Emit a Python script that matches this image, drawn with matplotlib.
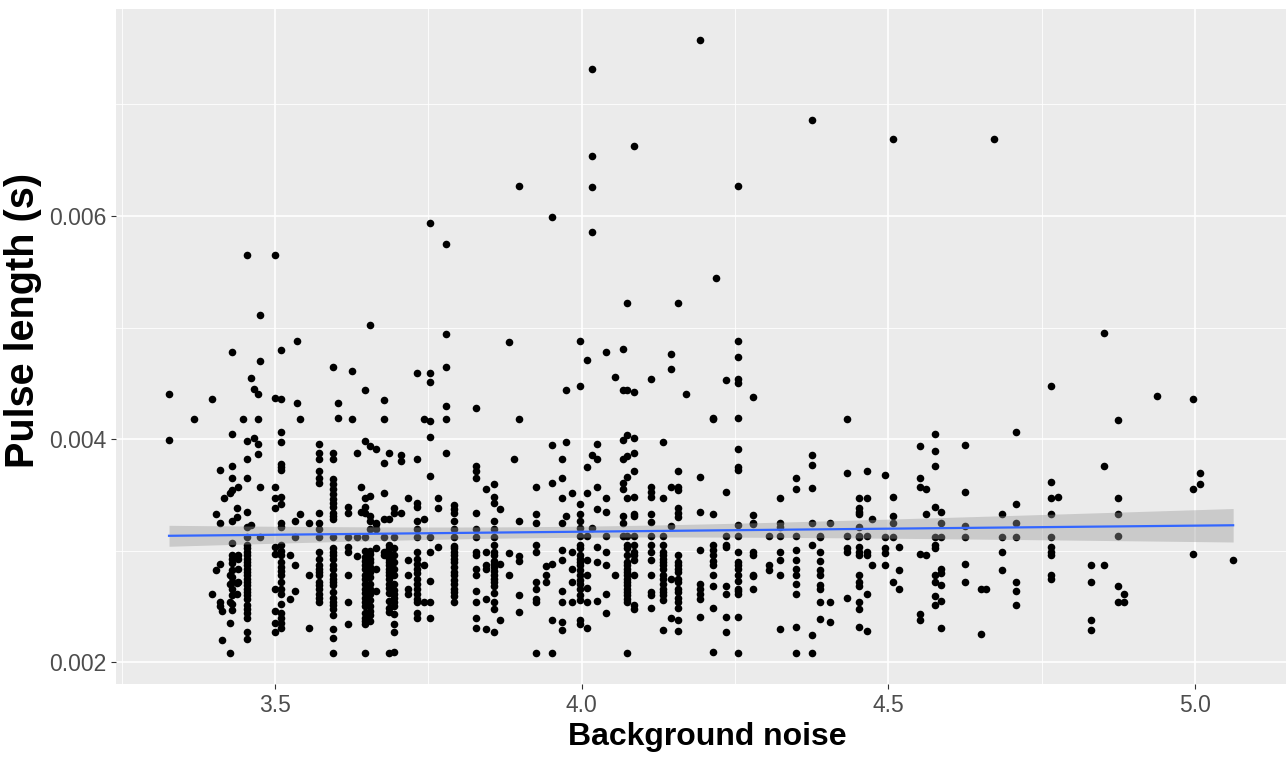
import numpy as np
import matplotlib
matplotlib.use("Agg")
import matplotlib.pyplot as plt
import matplotlib.ticker as ticker

plt.rcParams['font.family'] = ['Liberation Sans', 'DejaVu Sans']

# Background noise value of each column of points
col_noise = [
    3.327, 3.367, 3.397, 3.403, 3.410, 3.414, 3.416, 3.427, 3.430, 3.438,
    3.440, 3.447, 3.454, 3.460, 3.466, 3.472, 3.476, 3.500, 3.510, 3.524,
    3.532, 3.535, 3.540, 3.555, 3.572, 3.594, 3.603, 3.618, 3.626, 3.634,
    3.640, 3.646, 3.654, 3.665, 3.678, 3.685, 3.694, 3.706, 3.717, 3.731,
    3.743, 3.752, 3.766, 3.779, 3.791, 3.827, 3.843, 3.857, 3.866, 3.881,
    3.890, 3.897, 3.926, 3.941, 3.952, 3.967, 3.974, 3.984, 3.997, 4.008,
    4.016, 4.025, 4.039, 4.054, 4.067, 4.074, 4.085, 4.113, 4.133, 4.145,
    4.157, 4.170, 4.192, 4.214, 4.218, 4.235, 4.255, 4.279, 4.305, 4.323,
    4.349, 4.375, 4.388, 4.405, 4.433, 4.452, 4.465, 4.473, 4.494, 4.508,
    4.517, 4.552, 4.561, 4.576, 4.586, 4.625, 4.651, 4.659, 4.672, 4.685,
    4.708, 4.765, 4.777, 4.830, 4.851, 4.874, 4.884, 4.938, 4.996, 5.008,
    5.062,
]

# Pulse lengths (s) found in each column, same order as col_noise
col_pulse = [
    [0.00440, 0.00399],
    [0.00418],
    [0.00436, 0.00261],
    [0.00333, 0.00283],
    [0.00372, 0.00325, 0.00288, 0.00254, 0.00250],
    [0.00246, 0.00220],
    [0.00347],
    [0.00352, 0.00278, 0.00270, 0.00254, 0.00235, 0.00208],
    [0.00478, 0.00405, 0.00376, 0.00365, 0.00354, 0.00327, 0.00307, 0.00296,
     0.00293, 0.00272, 0.00247],
    [0.00338, 0.00330, 0.00271, 0.00261],
    [0.00357, 0.00296, 0.00293, 0.00284, 0.00272],
    [0.00418],
    [0.00565, 0.00398, 0.00382, 0.00365, 0.00335, 0.00321, 0.00312, 0.00305,
     0.00299, 0.00293, 0.00287, 0.00278, 0.00272, 0.00266, 0.00260, 0.00251,
     0.00244, 0.00227, 0.00221],
    [0.00455, 0.00323],
    [0.00445, 0.00401],
    [0.00440, 0.00418, 0.00396, 0.00387],
    [0.00511, 0.00470, 0.00357, 0.00312],
    [0.00565, 0.00437, 0.00357, 0.00347, 0.00338, 0.00303, 0.00297, 0.00266,
     0.00246, 0.00235, 0.00227],
    [0.00480, 0.00436, 0.00406, 0.00397, 0.00378, 0.00375, 0.00372, 0.00348,
     0.00342, 0.00325, 0.00321, 0.00305, 0.00296, 0.00285, 0.00278, 0.00261,
     0.00244, 0.00235, 0.00231],
    [0.00296, 0.00257],
    [0.00327, 0.00312, 0.00287, 0.00264],
    [0.00488, 0.00432],
    [0.00418, 0.00333],
    [0.00325, 0.00278, 0.00231],
    [0.00396, 0.00388, 0.00382, 0.00371, 0.00365, 0.00361, 0.00334, 0.00325,
     0.00319, 0.00312, 0.00299, 0.00287, 0.00284, 0.00278, 0.00269, 0.00261,
     0.00254],
    [0.00465, 0.00388, 0.00382, 0.00364, 0.00360, 0.00355, 0.00351, 0.00346,
     0.00343, 0.00339, 0.00334, 0.00331, 0.00328, 0.00312, 0.00299, 0.00296,
     0.00287, 0.00278, 0.00272, 0.00254, 0.00248, 0.00230, 0.00222, 0.00208],
    [0.00432, 0.00419],
    [0.00339, 0.00334, 0.00312, 0.00303, 0.00299, 0.00278, 0.00254, 0.00234],
    [0.00461, 0.00418],
    [0.00388, 0.00312, 0.00295],
    [0.00357, 0.00335],
    [0.00444, 0.00398, 0.00347, 0.00339, 0.00334, 0.00312, 0.00291, 0.00287,
     0.00278, 0.00266, 0.00254, 0.00240, 0.00234, 0.00208],
    [0.00502, 0.00394, 0.00349, 0.00331, 0.00327, 0.00319, 0.00297, 0.00290,
     0.00281, 0.00270, 0.00261, 0.00246, 0.00237],
    [0.00391, 0.00325, 0.00324, 0.00319, 0.00302, 0.00284, 0.00264],
    [0.00435, 0.00418, 0.00379, 0.00352, 0.00328, 0.00312, 0.00299, 0.00296],
    [0.00388, 0.00328, 0.00305, 0.00302, 0.00290, 0.00287, 0.00281, 0.00278,
     0.00270, 0.00249, 0.00208],
    [0.00338, 0.00334, 0.00312, 0.00296, 0.00261, 0.00254, 0.00243, 0.00234,
     0.00227, 0.00209],
    [0.00386, 0.00380, 0.00334],
    [0.00347, 0.00292, 0.00278, 0.00266, 0.00261],
    [0.00459, 0.00382, 0.00343, 0.00339, 0.00327, 0.00319, 0.00312, 0.00288,
     0.00284, 0.00270, 0.00261, 0.00257, 0.00254, 0.00244, 0.00240],
    [0.00418, 0.00328, 0.00287, 0.00254],
    [0.00594, 0.00459, 0.00451, 0.00416, 0.00402, 0.00367, 0.00312, 0.00299,
     0.00273, 0.00254, 0.00240],
    [0.00347, 0.00338, 0.00303],
    [0.00575, 0.00494, 0.00465, 0.00430, 0.00418, 0.00388],
    [0.00341, 0.00337, 0.00334, 0.00327, 0.00319, 0.00312, 0.00304, 0.00302,
     0.00296, 0.00293, 0.00278, 0.00270, 0.00266, 0.00263, 0.00254],
    [0.00428, 0.00376, 0.00371, 0.00365, 0.00334, 0.00319, 0.00312, 0.00299,
     0.00296, 0.00284, 0.00278, 0.00264, 0.00254, 0.00240, 0.00231],
    [0.00355, 0.00299, 0.00287, 0.00284, 0.00257, 0.00230],
    [0.00360, 0.00348, 0.00343, 0.00327, 0.00319, 0.00312, 0.00299, 0.00296,
     0.00291, 0.00278, 0.00272, 0.00254, 0.00248, 0.00227],
    [0.00337, 0.00288, 0.00238],
    [0.00487, 0.00298, 0.00278],
    [0.00382],
    [0.00627, 0.00418, 0.00327, 0.00295, 0.00291, 0.00260, 0.00245],
    [0.00357, 0.00333, 0.00325, 0.00305, 0.00299, 0.00272, 0.00266, 0.00257,
     0.00254, 0.00208],
    [0.00286, 0.00278, 0.00272],
    [0.00599, 0.00395, 0.00361, 0.00288, 0.00238, 0.00208],
    [0.00382, 0.00365, 0.00347, 0.00325, 0.00301, 0.00292, 0.00264, 0.00254,
     0.00236, 0.00229],
    [0.00444, 0.00397, 0.00331],
    [0.00352, 0.00299, 0.00284, 0.00272, 0.00254],
    [0.00488, 0.00448, 0.00342, 0.00333, 0.00327, 0.00320, 0.00313, 0.00305,
     0.00293, 0.00287, 0.00278, 0.00270, 0.00260, 0.00238, 0.00234],
    [0.00471, 0.00375, 0.00352, 0.00313, 0.00292, 0.00278, 0.00267, 0.00254,
     0.00231],
    [0.00732, 0.00654, 0.00626, 0.00586, 0.00386, 0.00320],
    [0.00396, 0.00382, 0.00357, 0.00337, 0.00303, 0.00290, 0.00255],
    [0.00478, 0.00347, 0.00335, 0.00313, 0.00299, 0.00287, 0.00261, 0.00244],
    [0.00456, 0.00278],
    [0.00481, 0.00444, 0.00399, 0.00382, 0.00361, 0.00355, 0.00331, 0.00325,
     0.00313],
    [0.00522, 0.00444, 0.00404, 0.00385, 0.00366, 0.00347, 0.00313, 0.00302,
     0.00290, 0.00284, 0.00278, 0.00272, 0.00266, 0.00260, 0.00254, 0.00208],
    [0.00663, 0.00442, 0.00401, 0.00388, 0.00371, 0.00348, 0.00333, 0.00331,
     0.00313, 0.00305, 0.00299, 0.00296, 0.00292, 0.00278, 0.00251, 0.00248],
    [0.00454, 0.00357, 0.00353, 0.00348, 0.00333, 0.00326, 0.00313, 0.00305,
     0.00299, 0.00292, 0.00278, 0.00263, 0.00260, 0.00249],
    [0.00397, 0.00347, 0.00313, 0.00299, 0.00296, 0.00287, 0.00278, 0.00270,
     0.00260, 0.00229],
    [0.00476, 0.00463, 0.00357, 0.00322, 0.00275, 0.00240],
    [0.00522, 0.00371, 0.00357, 0.00354, 0.00338, 0.00334, 0.00330, 0.00290,
     0.00287, 0.00275, 0.00263, 0.00254, 0.00249, 0.00238, 0.00228],
    [0.00440],
    [0.00758, 0.00366, 0.00335, 0.00301, 0.00270, 0.00266, 0.00261, 0.00257,
     0.00241],
    [0.00419, 0.00418, 0.00333, 0.00305, 0.00301, 0.00296, 0.00291, 0.00287,
     0.00278, 0.00268, 0.00249, 0.00209],
    [0.00544],
    [0.00453, 0.00353, 0.00313, 0.00305, 0.00303, 0.00268, 0.00261, 0.00241,
     0.00227],
    [0.00627, 0.00488, 0.00474, 0.00454, 0.00450, 0.00419, 0.00391, 0.00375,
     0.00372, 0.00323, 0.00313, 0.00299, 0.00290, 0.00287, 0.00284, 0.00278,
     0.00273, 0.00266, 0.00264, 0.00261, 0.00241, 0.00208],
    [0.00438, 0.00332, 0.00325, 0.00324, 0.00299, 0.00296, 0.00278, 0.00277,
     0.00266],
    [0.00313, 0.00287, 0.00283],
    [0.00347, 0.00325, 0.00321, 0.00313, 0.00299, 0.00292, 0.00278, 0.00230],
    [0.00365, 0.00355, 0.00313, 0.00301, 0.00292, 0.00284, 0.00278, 0.00270,
     0.00261, 0.00232, 0.00208],
    [0.00686, 0.00386, 0.00377, 0.00356, 0.00325, 0.00305, 0.00224, 0.00208],
    [0.00313, 0.00312, 0.00299, 0.00291, 0.00283, 0.00278, 0.00269, 0.00266,
     0.00254, 0.00239],
    [0.00325, 0.00254, 0.00236],
    [0.00418, 0.00370, 0.00313, 0.00302, 0.00299, 0.00258],
    [0.00347, 0.00338, 0.00335, 0.00333, 0.00321, 0.00313, 0.00312, 0.00303,
     0.00299, 0.00296, 0.00278, 0.00272, 0.00268, 0.00254, 0.00248, 0.00232],
    [0.00371, 0.00347, 0.00313, 0.00299, 0.00296, 0.00261, 0.00228],
    [0.00328, 0.00287],
    [0.00368, 0.00312, 0.00302, 0.00298, 0.00287],
    [0.00669, 0.00348, 0.00331, 0.00325, 0.00312, 0.00272],
    [0.00303, 0.00283, 0.00266],
    [0.00394, 0.00365, 0.00357, 0.00297, 0.00243, 0.00238],
    [0.00355, 0.00333, 0.00296],
    [0.00405, 0.00389, 0.00376, 0.00339, 0.00312, 0.00305, 0.00302, 0.00278,
     0.00272, 0.00259, 0.00251],
    [0.00335, 0.00325, 0.00312, 0.00284, 0.00280, 0.00269, 0.00255, 0.00231],
    [0.00395, 0.00353, 0.00322, 0.00312, 0.00288, 0.00272],
    [0.00266, 0.00225],
    [0.00266],
    [0.00669],
    [0.00333, 0.00312, 0.00299, 0.00283],
    [0.00406, 0.00342, 0.00325, 0.00312, 0.00272, 0.00264, 0.00251],
    [0.00448, 0.00362, 0.00347, 0.00333, 0.00312, 0.00303, 0.00299, 0.00296,
     0.00278, 0.00275],
    [0.00348],
    [0.00287, 0.00272, 0.00238, 0.00229],
    [0.00495, 0.00376, 0.00287],
    [0.00417, 0.00347, 0.00333, 0.00313, 0.00268, 0.00254],
    [0.00261, 0.00254],
    [0.00439],
    [0.00436, 0.00355, 0.00297],
    [0.00370, 0.00360],
    [0.00292],
]

# points half hidden inside the dense stacks of the low band
stack_noise = [3.430, 3.454, 3.510, 3.572, 3.594, 3.646, 3.654, 3.685,
               3.694, 3.731, 3.791, 3.857, 3.997, 4.074, 4.133, 4.157]
stack_pulse = [
    [0.00289, 0.00283, 0.00276, 0.00266, 0.00260, 0.00252],
    [0.00302, 0.00296, 0.00290, 0.00284, 0.00281, 0.00275, 0.00269, 0.00263,
     0.00257, 0.00248, 0.00240],
    [0.00300, 0.00290, 0.00282, 0.00272, 0.00266, 0.00252, 0.00240],
    [0.00293, 0.00281, 0.00272, 0.00266, 0.00258],
    [0.00302, 0.00293, 0.00284, 0.00275, 0.00269, 0.00263, 0.00258, 0.00251,
     0.00242],
    [0.00300, 0.00294, 0.00284, 0.00275, 0.00270, 0.00262, 0.00258, 0.00250,
     0.00244, 0.00237],
    [0.00300, 0.00293, 0.00285, 0.00276, 0.00266, 0.00256, 0.00250, 0.00242],
    [0.00298, 0.00293, 0.00284, 0.00275, 0.00267, 0.00262, 0.00255, 0.00245],
    [0.00302, 0.00290, 0.00284, 0.00278, 0.00270, 0.00265, 0.00258, 0.00250],
    [0.00299, 0.00293, 0.00280, 0.00275, 0.00266],
    [0.00299, 0.00290, 0.00285, 0.00281, 0.00274, 0.00259],
    [0.00305, 0.00288, 0.00285, 0.00282, 0.00275, 0.00268, 0.00262],
    [0.00302, 0.00296, 0.00290, 0.00283, 0.00274, 0.00266, 0.00256],
    [0.00305, 0.00296, 0.00287, 0.00281, 0.00275, 0.00269, 0.00263, 0.00257],
    [0.00305, 0.00293, 0.00290, 0.00284, 0.00275, 0.00266, 0.00263, 0.00256],
    [0.00296, 0.00284, 0.00281, 0.00272, 0.00266, 0.00258],
]

x_ticks = [3.5, 4.0, 4.5, 5.0]
y_ticks = [0.002, 0.004, 0.006]

# flatten the columns into point arrays
all_noise = col_noise + stack_noise
all_pulse = col_pulse + stack_pulse
noise = np.concatenate([[x] * len(p) for x, p in zip(all_noise, all_pulse)])
pulse = np.concatenate([np.array(p) for p in all_pulse])

# linear fit with 95% confidence band (like geom_smooth(method = "lm"))
n = len(noise)
slope, intercept = np.polyfit(noise, pulse, 1)
resid = pulse - (intercept + slope * noise)
s_err = np.sqrt(np.sum(resid ** 2) / (n - 2))
x_mean = noise.mean()
sxx = np.sum((noise - x_mean) ** 2)
fit_x = np.linspace(noise.min(), noise.max(), 80)
fit_y = intercept + slope * fit_x
se = s_err * np.sqrt(1.0 / n + (fit_x - x_mean) ** 2 / sxx)
band = 1.96 * se

fig = plt.figure(figsize=(12.87, 7.58), dpi=100)
ax = fig.add_axes([0.090, 0.0976, 0.9095, 0.8905])
ax.set_facecolor('#EBEBEB')
for sp in ax.spines.values():
    sp.set_visible(False)

ax.scatter(noise, pulse, s=30, color='black', linewidths=0, zorder=3)
ax.fill_between(fit_x, fit_y - band, fit_y + band, color='#999999',
                alpha=0.4, linewidth=0, zorder=4)
ax.plot(fit_x, fit_y, color='#3366FF', linewidth=1.6, zorder=5)

# ggplot-like 5% expansion
xr = noise.max() - noise.min()
yr = pulse.max() - pulse.min()
ax.set_xlim(noise.min() - 0.05 * xr, noise.max() + 0.05 * xr)
ax.set_ylim(pulse.min() - 0.05 * yr, pulse.max() + 0.05 * yr)

ax.set_xticks(x_ticks)
ax.set_yticks(y_ticks)
ax.xaxis.set_minor_locator(ticker.MultipleLocator(0.25))
ax.yaxis.set_minor_locator(ticker.MultipleLocator(0.001))
ax.xaxis.set_major_formatter(ticker.FormatStrFormatter('%.1f'))
ax.yaxis.set_major_formatter(ticker.FormatStrFormatter('%.3f'))

ax.grid(which='major', color='white', linewidth=1.2, zorder=0)
ax.grid(which='minor', color='white', linewidth=0.6, zorder=0)
ax.set_axisbelow(True)

ax.tick_params(which='major', length=3.6, width=0.8, color='#333333',
               labelsize=16.5, labelcolor='#4D4D4D', pad=3.3)
ax.tick_params(which='minor', length=0)

ax.set_xlabel('Background noise', fontsize=23, fontweight='bold')
ax.set_ylabel('Pulse length (s)', fontsize=28.5, fontweight='bold')
ax.xaxis.set_label_coords(0.505, -0.056)
ax.yaxis.set_label_coords(-0.063, 0.539)

fig.savefig('out.png', dpi=100)
